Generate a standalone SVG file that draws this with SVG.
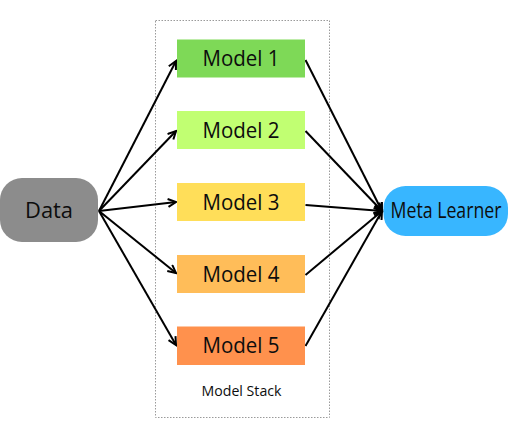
<svg xmlns="http://www.w3.org/2000/svg" width="514" height="429" viewBox="0 0 514 429">
  <style>
    .lbl { font-family: "Open Sans", "Liberation Sans", sans-serif; font-size: 21px; fill: #0d0d0d; text-anchor: middle; }
    .small { font-family: "Open Sans", "Liberation Sans", sans-serif; font-size: 14px; fill: #0d0d0d; text-anchor: middle; }
    .conn { stroke: #000; stroke-width: 2; fill: none; }
  </style>
  <defs>
    <marker id="arr" markerUnits="userSpaceOnUse" markerWidth="12" markerHeight="12" refX="9" refY="5" orient="auto">
      <path d="M1,1 L9,5 L1,9" fill="none" stroke="#000" stroke-width="2"/>
    </marker>
  </defs>
  <rect width="514" height="429" fill="#fff"/>

  <g id="model-stack">
    <rect x="155.5" y="20.5" width="174" height="397" fill="none" stroke="#9a9a9a" stroke-width="1" stroke-dasharray="1.5,1.5"/>
    <text class="small" x="241.5" y="395.5" textLength="80" lengthAdjust="spacingAndGlyphs">Model Stack</text>
  </g>

  <g id="connectors">
    <line class="conn" x1="99" y1="211" x2="176" y2="61" marker-end="url(#arr)"/>
    <line class="conn" x1="99" y1="211" x2="176" y2="131" marker-end="url(#arr)"/>
    <line class="conn" x1="99" y1="211" x2="176" y2="202" marker-end="url(#arr)"/>
    <line class="conn" x1="99" y1="211" x2="176" y2="273" marker-end="url(#arr)"/>
    <line class="conn" x1="99" y1="211" x2="176" y2="345" marker-end="url(#arr)"/>
    <line class="conn" x1="305.5" y1="60" x2="382" y2="211" marker-end="url(#arr)"/>
    <line class="conn" x1="305.5" y1="131" x2="382" y2="211" marker-end="url(#arr)"/>
    <line class="conn" x1="305.5" y1="205" x2="382" y2="211" marker-end="url(#arr)"/>
    <line class="conn" x1="305.5" y1="275" x2="382" y2="211" marker-end="url(#arr)"/>
    <line class="conn" x1="305.5" y1="346" x2="382" y2="211" marker-end="url(#arr)"/>
  </g>

  <g id="data">
    <rect x="0" y="178" width="98" height="64" rx="22" ry="22" fill="#8c8c8c"/>
    <text class="lbl" x="49" y="218" textLength="48" lengthAdjust="spacingAndGlyphs">Data</text>
  </g>

  <g id="model1">
    <rect x="177" y="39.5" width="128" height="38" fill="#7ed957"/>
    <text class="lbl" x="241" y="66" textLength="77" lengthAdjust="spacingAndGlyphs">Model 1</text>
  </g>
  <g id="model2">
    <rect x="177" y="111" width="128" height="38" fill="#c1ff72"/>
    <text class="lbl" x="241" y="137.5" textLength="77" lengthAdjust="spacingAndGlyphs">Model 2</text>
  </g>
  <g id="model3">
    <rect x="177" y="183" width="128" height="38" fill="#ffde59"/>
    <text class="lbl" x="241" y="209.5" textLength="77" lengthAdjust="spacingAndGlyphs">Model 3</text>
  </g>
  <g id="model4">
    <rect x="177" y="255" width="128" height="38" fill="#ffbd59"/>
    <text class="lbl" x="241" y="281.5" textLength="77" lengthAdjust="spacingAndGlyphs">Model 4</text>
  </g>
  <g id="model5">
    <rect x="177" y="326.5" width="128" height="38.5" fill="#ff914d"/>
    <text class="lbl" x="241" y="353" textLength="77" lengthAdjust="spacingAndGlyphs">Model 5</text>
  </g>

  <g id="meta-learner">
    <rect x="383.5" y="186" width="124.5" height="50" rx="22" ry="22" fill="#38b6ff"/>
    <text class="lbl" x="446" y="218" font-size="20" textLength="111" lengthAdjust="spacingAndGlyphs">Meta Learner</text>
  </g>
</svg>
